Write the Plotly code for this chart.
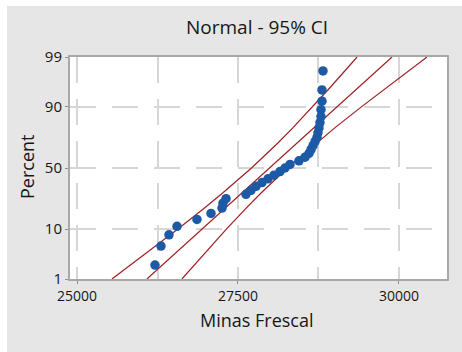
import plotly.graph_objects as go
from statistics import NormalDist

# ---- data ----
minas_frescal = [26211, 26304, 26428, 26553, 26863, 27081, 27252, 27267, 27314,
                 27624, 27702, 27780, 27873, 27966, 28059, 28152, 28230, 28308,
                 28447, 28541, 28603, 28634, 28665, 28696, 28727, 28742, 28758,
                 28773, 28789, 28789, 28804, 28804, 28820]

ci_percent = [1, 2, 5, 10, 20, 30, 50, 70, 80, 90, 95, 98, 99]
fit_value = [26086, 26309, 26643, 26941, 27301, 27560, 27989, 28418, 28677, 29037, 29335, 29669, 29892]
ci_lower = [25543, 25812, 26211, 26562, 26975, 27262, 27710, 28120, 28351, 28658, 28903, 29172, 29349]
ci_upper = [26629, 26806, 27075, 27320, 27627, 27858, 28268, 28716, 29003, 29416, 29767, 30166, 30435]

y_ticks = [1, 10, 50, 90, 99]
x_ticks = [25000, 27500, 30000]
x_minor = [26250, 28750]

# ---- probability (normal) scale ----
nd = NormalDist()
def zpos(pct):
    return nd.inv_cdf(pct / 100.0)

n = len(minas_frescal)
values_sorted = sorted(minas_frescal)
# Benard median-rank plotting positions
point_pct = [(i - 0.3) / (n + 0.4) * 100 for i in range(1, n + 1)]

line_color = "#a01e22"
fig = go.Figure()
for xs in (ci_lower, fit_value, ci_upper):
    fig.add_trace(go.Scatter(
        x=xs, y=[zpos(p) for p in ci_percent], mode="lines",
        line=dict(color=line_color, width=1.2), hoverinfo="skip", showlegend=False))
fig.add_trace(go.Scatter(
    x=values_sorted, y=[zpos(p) for p in point_pct], mode="markers",
    marker=dict(color="#1c5aa6", size=9.5, line=dict(width=0)), showlegend=False))

# plot area in pixels: x 70..447, y 57..279
L, R, T, B = 70, 447, 57, 279
W, H = 462, 352
pw, ph = R - L, B - T
def px_x(x):
    return (x - L) / pw
def px_y(y):
    return (B - y) / ph

font_fam = "Open Sans, Noto Sans, DejaVu Sans, sans-serif"
txt = "#161616"
grid = "#d6d6d6"

fig.update_layout(
    width=W, height=H,
    margin=dict(l=L, r=W - R, t=T, b=H - B, pad=0),
    paper_bgcolor="#e6e6e6",
    plot_bgcolor="white",
    font=dict(family=font_fam, color=txt),
    xaxis=dict(
        range=[24891, 30746],
        tickvals=x_ticks, ticktext=[str(v) for v in x_ticks],
        tickfont=dict(size=14, color=txt),
        showgrid=True, gridcolor=grid, gridwidth=1.5, griddash="26px,16px",
        minor=dict(tickvals=x_minor, showgrid=True, gridcolor=grid, gridwidth=1.5,
                   griddash="26px,16px", ticks=""),
        zeroline=False, showline=True, linecolor="#a8a8a8", linewidth=2, mirror=True,
        ticks="outside", ticklen=3, tickcolor="#909090",
    ),
    yaxis=dict(
        range=[zpos(1), zpos(99)],
        tickvals=[zpos(p) for p in y_ticks], ticktext=[str(p) for p in y_ticks],
        tickfont=dict(size=15, color=txt),
        showgrid=True, gridcolor=grid, gridwidth=1.5, griddash="26px,16px",
        zeroline=False, showline=True, linecolor="#a8a8a8", linewidth=2, mirror=True,
        ticks="outside", ticklen=3, tickcolor="#909090",
    ),
    shapes=[
        dict(type="rect", xref="paper", yref="paper", x0=px_x(-5), x1=px_x(7),
             y0=px_y(W + 10), y1=px_y(-5), fillcolor="white", line=dict(width=0), layer="below"),
        dict(type="rect", xref="paper", yref="paper", x0=px_x(-5), x1=px_x(W + 5),
             y0=px_y(6), y1=px_y(-5), fillcolor="white", line=dict(width=0), layer="below"),
    ],
    annotations=[
        dict(text="Normal - 95% CI", xref="paper", yref="paper", x=px_x(257), y=px_y(27),
             xanchor="center", yanchor="middle", showarrow=False, font=dict(size=19, color=txt)),
        dict(text="Minas Frescal", xref="paper", yref="paper", x=px_x(257), y=px_y(320),
             xanchor="center", yanchor="middle", showarrow=False, font=dict(size=18, color=txt)),
        dict(text="Percent", xref="paper", yref="paper", x=px_x(27), y=px_y(167),
             xanchor="center", yanchor="middle", textangle=-90, showarrow=False,
             font=dict(size=18, color=txt)),
    ],
)

fig.write_html("out.html")
